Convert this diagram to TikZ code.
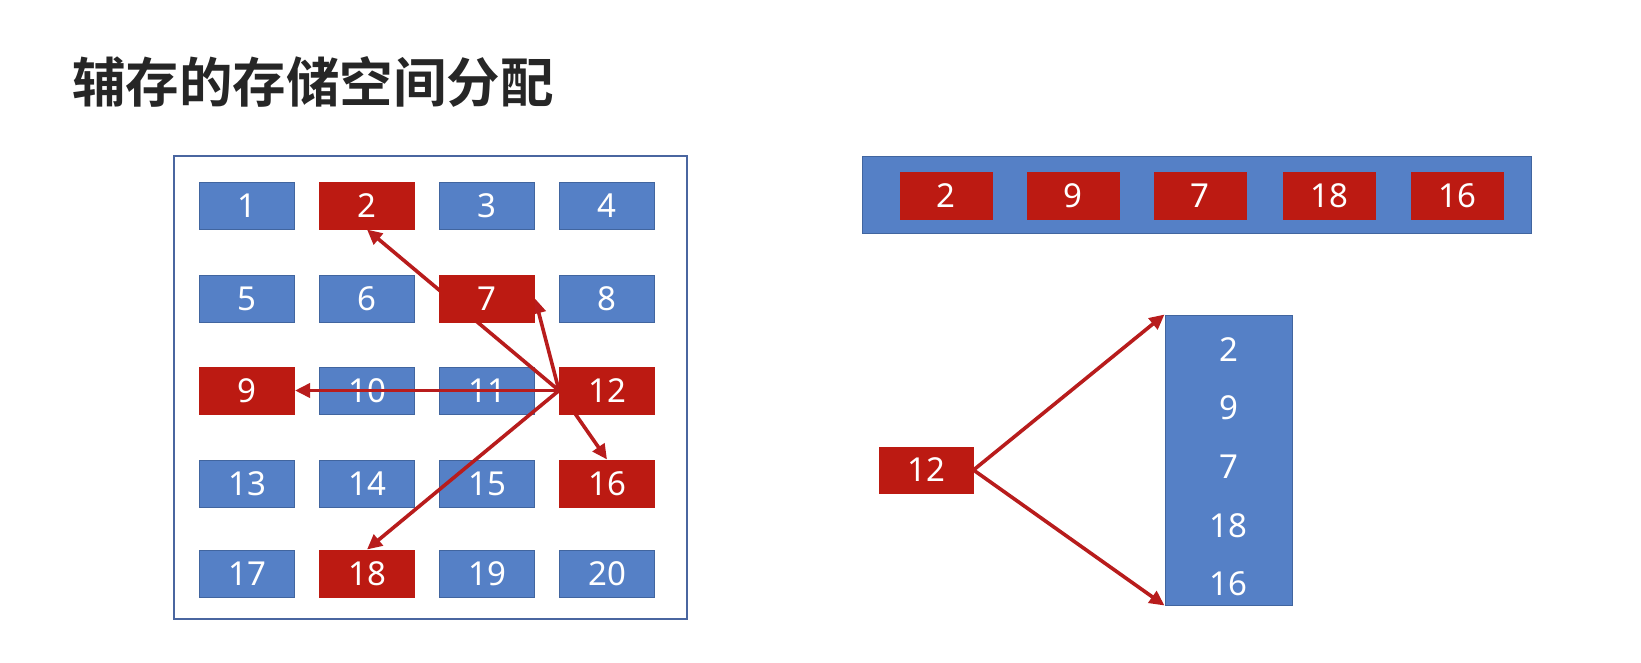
\documentclass[tikz,border=0pt]{standalone}
\usepackage{fontspec}
\setmainfont{Noto Sans}
\newfontfamily\cjkbold[BoldFont={Noto Sans CJK SC Bold}]{Noto Sans CJK SC}
\usetikzlibrary{arrows.meta}
\definecolor{cblue}{HTML}{5580C6}
\definecolor{cblueline}{HTML}{41659F}
\definecolor{cred}{HTML}{BC1A12}
\definecolor{carrow}{HTML}{B81C1C}
\definecolor{cframe}{HTML}{4A66A0}
\definecolor{ctitle}{HTML}{262626}
\pgfdeclarelayer{bglayer}
\pgfdeclarelayer{bluelayer}
\pgfdeclarelayer{arrlayer}
\pgfsetlayers{bglayer,bluelayer,arrlayer,main}
\tikzset{
  cell/.style={rectangle, inner sep=0pt, minimum width=95pt, minimum height=47pt,
    text=white, font=\fontsize{33}{36}\selectfont},
  bluecell/.style={cell, fill=cblue, draw=cblueline, line width=1pt},
  redcell/.style={cell, fill=cred, draw=cred, line width=1pt},
  redsmall/.style={redcell, minimum width=92pt},
  link/.style={draw=carrow, line width=3.6pt, -{Triangle[length=15pt,width=14pt]}},
  numtext/.style={inner sep=0pt, text=white, font=\fontsize{33}{36}\selectfont},
}
\begin{document}
\begin{tikzpicture}[x=1pt,y=-1pt]
\useasboundingbox (0,0) rectangle (1641,662);
\begin{pgfonlayer}{bglayer}
\fill[white] (0,0) rectangle (1641,662);
\end{pgfonlayer}
% title
\node[anchor=west, inner sep=0pt, text=ctitle, font=\cjkbold\bfseries\fontsize{53.5}{58}\selectfont] (title) at (72,82) {辅存的存储空间分配};
% frame
\node[draw=cframe, line width=1.2pt, minimum width=513pt, minimum height=463pt, inner sep=0pt] (frame) at (430.5,387.5) {};
% grid
\begin{pgfonlayer}{bluelayer}
\node[bluecell] (n1) at (247,205.5) {1};
\node[bluecell] (n3) at (487,205.5) {3};
\node[bluecell] (n4) at (607,205.5) {4};
\node[bluecell] (n5) at (247,298.5) {5};
\node[bluecell] (n6) at (367,298.5) {6};
\node[bluecell] (n8) at (607,298.5) {8};
\node[bluecell] (n10) at (367,390.5) {10};
\node[bluecell] (n11) at (487,390.5) {11};
\node[bluecell] (n13) at (247,483.5) {13};
\node[bluecell] (n14) at (367,483.5) {14};
\node[bluecell] (n15) at (487,483.5) {15};
\node[bluecell] (n17) at (247,573.5) {17};
\node[bluecell] (n19) at (487,573.5) {19};
\node[bluecell] (n20) at (607,573.5) {20};
% top bar
\node[rectangle, fill=cblue, draw=cblueline, line width=1pt, minimum width=669pt, minimum height=77pt, inner sep=0pt] (bar) at (1196.5,194.5) {};
% column
\node[rectangle, fill=cblue, draw=cblueline, line width=1pt, minimum width=127pt, minimum height=290pt, inner sep=0pt] (col) at (1228.5,460) {};
\end{pgfonlayer}
\node[redcell] (n2) at (367,205.5) {2};
\node[redcell] (n7) at (487,298.5) {7};
\node[redcell] (n9) at (247,390.5) {9};
\node[redcell] (n12) at (607,390.5) {12};
\node[redcell] (n16) at (607,483.5) {16};
\node[redcell] (n18) at (367,573.5) {18};
% bar contents
\node[redsmall] (b2) at (946,195.5) {2};
\node[redsmall] (b9) at (1073,195.5) {9};
\node[redsmall] (b7) at (1200,195.5) {7};
\node[redsmall] (b18) at (1329,195.5) {18};
\node[redsmall] (b16) at (1457,195.5) {16};
% column contents
\node[numtext] (c2) at (1228.5,350) {2};
\node[numtext] (c9) at (1228.5,408) {9};
\node[numtext] (c7) at (1228.5,467) {7};
\node[numtext] (c18) at (1228.5,526) {18};
\node[numtext] (c16) at (1228.5,584) {16};
% right 12
\node[redsmall, minimum width=94pt, minimum height=46pt] (r12) at (926,470) {12};
% arrows
\begin{pgfonlayer}{arrlayer}
\draw[link] (n12.west) -- (n2.south);
\draw[link] (n12.west) -- (n7.east);
\draw[link] (n12.west) -- (n9.east);
\draw[link] (n12.west) -- (n16.north);
\draw[link] (n12.west) -- (n18.north);
\draw[link] (r12.east) -- (col.north west);
\draw[link] (r12.east) -- (col.south west);
\end{pgfonlayer}
\end{tikzpicture}
\end{document}
